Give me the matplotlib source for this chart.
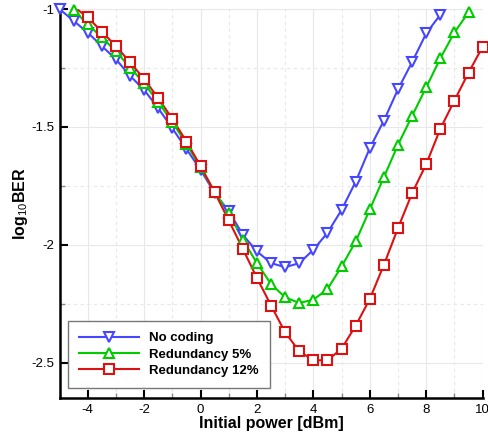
import matplotlib
matplotlib.use("Agg")
import matplotlib.pyplot as plt
import numpy as np
from matplotlib.ticker import MultipleLocator

plt.rcParams['font.family'] = ['Liberation Sans', 'DejaVu Sans']
plt.rcParams['mathtext.fontset'] = 'custom'
plt.rcParams['mathtext.rm'] = 'Liberation Sans'
plt.rcParams['mathtext.bf'] = 'Liberation Sans:bold'

x_blue = [-5, -4.5, -4, -3.5, -3, -2.5, -2, -1.5, -1, -0.5, 0, 0.5, 1, 1.5, 2, 2.5,
          3, 3.5, 4, 4.5, 5, 5.5, 6, 6.5, 7, 7.5, 8, 8.5]
no_coding = [-1.00, -1.05, -1.10, -1.157, -1.213, -1.283, -1.343, -1.421, -1.506, -1.594,
             -1.682, -1.781, -1.857, -1.958, -2.028, -2.078, -2.095, -2.078, -2.021, -1.949,
             -1.852, -1.732, -1.59, -1.473, -1.340, -1.225, -1.103, -1.024]

x_green = [-5, -4.5, -4, -3.5, -3, -2.5, -2, -1.5, -1, -0.5, 0, 0.5, 1, 1.5, 2, 2.5,
           3, 3.5, 4, 4.5, 5, 5.5, 6, 6.5, 7, 7.5, 8, 8.5, 9, 9.5]
red5 = [-0.96, -1.004, -1.065, -1.12, -1.18, -1.248, -1.315, -1.395, -1.48, -1.572,
        -1.672, -1.776, -1.866, -1.979, -2.078, -2.167, -2.223, -2.247, -2.233, -2.188,
        -2.092, -1.986, -1.850, -1.713, -1.576, -1.453, -1.332, -1.209, -1.099, -1.014]

x_red = [-5, -4.5, -4, -3.5, -3, -2.5, -2, -1.5, -1, -0.5, 0, 0.5, 1, 1.5, 2, 2.5,
         3, 3.5, 4, 4.5, 5, 5.5, 6, 6.5, 7, 7.5, 8, 8.5, 9, 9.5, 10]
red12 = [-0.93, -0.99, -1.035, -1.096, -1.157, -1.226, -1.297, -1.378, -1.466, -1.562,
         -1.666, -1.777, -1.897, -2.018, -2.141, -2.258, -2.372, -2.452, -2.490, -2.490,
         -2.441, -2.343, -2.230, -2.085, -1.929, -1.781, -1.658, -1.508, -1.388, -1.270, -1.160]

labels = ["No coding", "Redundancy 5%", "Redundancy 12%"]
colors = ["#4646ff", "#00cc00", "#dd1111"]
markers = ["v", "^", "s"]

fig = plt.figure(figsize=(4.88, 4.36), dpi=100)
ax = fig.add_axes([0.122, 0.0872, 0.867, 0.892])

YMIN, YMAX = -2.65, -1.0
handles = []
for xs, ys, c, m, lab in zip([x_blue, x_green, x_red], [no_coding, red5, red12],
                             colors, markers, labels):
    xs = np.array(xs); ys = np.array(ys)
    ax.plot(xs, ys, color=c, lw=1.5, zorder=3)
    vis = ys <= YMAX + 0.006
    ax.plot(xs[vis], ys[vis], ls='none', marker=m, ms=7.5, mfc='white', mec=c,
            mew=1.5, zorder=4, clip_on=False)
    h, = ax.plot([], [], color=c, lw=1.5, marker=m, ms=7.5, mfc='white', mec=c, mew=1.5)
    handles.append(h)

ax.set_xlim(-5, 10)
ax.set_ylim(YMIN, YMAX)
ax.xaxis.set_major_locator(MultipleLocator(2))
ax.xaxis.set_minor_locator(MultipleLocator(1))
ax.yaxis.set_major_locator(MultipleLocator(0.5))
ax.yaxis.set_minor_locator(MultipleLocator(0.25))
ax.xaxis.set_major_formatter(matplotlib.ticker.FuncFormatter(lambda v, p: f"{v:g}"))
ax.yaxis.set_major_formatter(matplotlib.ticker.FuncFormatter(lambda v, p: f"{v:g}"))

ax.grid(which='major', color='#e8e8e8', lw=0.8, ls='-', zorder=0)
ax.grid(which='minor', color='#e8e8e8', lw=0.8, ls=(0, (3, 3)), zorder=0)
ax.set_axisbelow(True)

for s in ['top', 'right']:
    ax.spines[s].set_visible(False)
for s in ['left', 'bottom']:
    ax.spines[s].set_linewidth(1.8)

ax.tick_params(which='major', direction='in', length=6, width=1.5, labelsize=9.5, pad=4)
ax.tick_params(which='minor', direction='in', length=3.5, width=1, color='#888888')

ax.set_xlabel("Initial power [dBm]", fontsize=11.5, fontweight='bold')
ax.set_ylabel("log$_{10}$BER", fontsize=11.5, fontweight='bold')
ax.xaxis.set_label_coords(0.5, -0.066)
ax.xaxis.label.set_va('center')
ax.yaxis.set_label_coords(-0.093, 0.5)
ax.yaxis.label.set_va('center')

leg = ax.legend(handles, labels, loc='lower left', bbox_to_anchor=(0.02, 0.0257),
                borderaxespad=0,
                prop={'weight': 'bold', 'size': 9.5}, handlelength=4.5,
                handletextpad=0.8, labelspacing=0.3, borderpad=0.85,
                fancybox=False, framealpha=1, edgecolor='#777777')
leg.get_frame().set_linewidth(1.0)

fig.savefig("out.png", dpi=100)
